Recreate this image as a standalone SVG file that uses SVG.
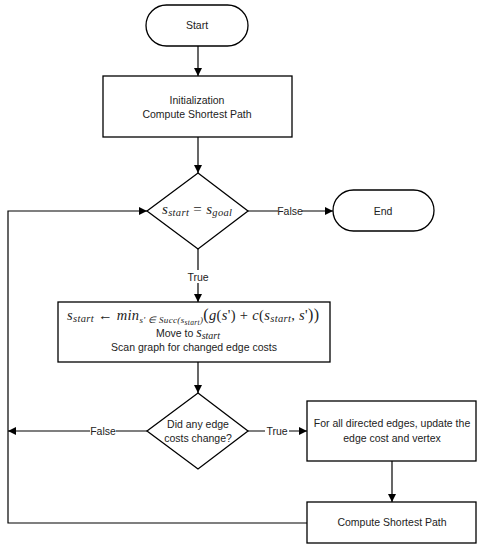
<svg xmlns="http://www.w3.org/2000/svg" width="482" height="550" viewBox="0 0 482 550">
<style>
.shape{fill:#fff;stroke:#000;stroke-width:1.3}
.conn{fill:none;stroke:#000;stroke-width:1.2}
.t{font-family:"Liberation Sans",Arial,sans-serif;font-size:10.5px;fill:#222;text-anchor:middle}
.lbl{font-family:"Liberation Sans",Arial,sans-serif;font-size:10.5px;fill:#222;text-anchor:middle}
.m{font-family:"Liberation Serif","Times New Roman",serif;font-style:italic;fill:#222}
</style>
<defs>
<marker id="arr" viewBox="0 0 10 10" refX="10" refY="5" markerWidth="8" markerHeight="8" markerUnits="userSpaceOnUse" orient="auto">
<path d="M0,0 L10,5 L0,10 z" fill="#000"/>
</marker>
</defs>
<rect width="482" height="550" fill="#fff"/>
<g id="connectors">
<line class="conn" x1="198" y1="46" x2="198" y2="76" marker-end="url(#arr)"/>
<line class="conn" x1="198" y1="137" x2="198" y2="173" marker-end="url(#arr)"/>
<line class="conn" x1="248" y1="211" x2="333" y2="211" marker-end="url(#arr)"/>
<line class="conn" x1="198" y1="249" x2="198" y2="302" marker-end="url(#arr)"/>
<line class="conn" x1="198" y1="362" x2="198" y2="393" marker-end="url(#arr)"/>
<line class="conn" x1="248" y1="431" x2="307" y2="431" marker-end="url(#arr)"/>
<line class="conn" x1="147" y1="431" x2="8" y2="431" marker-end="url(#arr)"/>
<line class="conn" x1="392" y1="461" x2="392" y2="502" marker-end="url(#arr)"/>
<polyline class="conn" points="307,523 8,523 8,211 147,211" marker-end="url(#arr)"/>
<rect x="278" y="204" width="24" height="13" fill="#fff"/>
<text class="lbl" x="290" y="215">False</text>
<rect x="186" y="270" width="24" height="13" fill="#fff"/>
<text class="lbl" x="198" y="281">True</text>
<rect x="265" y="424" width="24" height="13" fill="#fff"/>
<text class="lbl" x="277" y="435">True</text>
<rect x="90" y="424" width="26" height="13" fill="#fff"/>
<text class="lbl" x="103" y="435">False</text>
</g>
<g id="start">
<rect class="shape" x="146" y="5" width="102" height="41" rx="20.5"/>
<text class="t" x="197" y="29">Start</text>
</g>
<g id="init">
<rect class="shape" x="103" y="76" width="189" height="61"/>
<text class="t" x="197" y="104">Initialization</text>
<text class="t" x="197" y="118">Compute Shortest Path</text>
</g>
<g id="goal-check">
<polygon class="shape" points="198,173 248,211 198,249 147,211"/>
<text class="m" x="162" y="214" font-size="15" textLength="70" lengthAdjust="spacing">s<tspan font-size="10.5" dy="2">start</tspan><tspan dy="-2" font-style="normal"> = </tspan>s<tspan font-size="10.5" dy="2">goal</tspan></text>
</g>
<g id="end">
<rect class="shape" x="333" y="190" width="101" height="41" rx="20.5"/>
<text class="t" x="383" y="215">End</text>
</g>
<g id="move">
<rect class="shape" x="58" y="302" width="272" height="60"/>
<text class="m" x="67" y="320" font-size="14.5" textLength="252" lengthAdjust="spacing">s<tspan font-size="10.5" dy="2">start</tspan><tspan dy="-2" font-style="normal"> ← </tspan>min<tspan font-size="9" dy="3">s' ∈ Succ(s</tspan><tspan font-size="7.5" dy="1.5">start</tspan><tspan font-size="9" dy="-1.5">)</tspan><tspan dy="-3" font-style="normal" font-size="16">(</tspan>g<tspan font-style="normal">(</tspan>s<tspan font-style="normal">') + </tspan>c<tspan font-style="normal">(</tspan>s<tspan font-size="10.5" dy="2">start</tspan><tspan dy="-2" font-style="normal">, </tspan>s<tspan font-style="normal">'</tspan><tspan font-style="normal" font-size="16">))</tspan></text>
<text class="t" x="188" y="337">Move to <tspan class="m" font-size="14">s</tspan><tspan class="m" font-size="10" dy="2">start</tspan></text>
<text class="t" x="194" y="351">Scan graph for changed edge costs</text>
</g>
<g id="changed-check">
<polygon class="shape" points="198,393 248,431 198,469 147,431"/>
<text class="t" x="198" y="428">Did any edge</text>
<text class="t" x="198" y="442">costs change?</text>
</g>
<g id="update">
<rect class="shape" x="307" y="401" width="169" height="60"/>
<text class="t" x="392" y="427">For all directed edges, update the</text>
<text class="t" x="392" y="442">edge cost and vertex</text>
</g>
<g id="compute">
<rect class="shape" x="307" y="502" width="169" height="41"/>
<text class="t" x="392" y="526">Compute Shortest Path</text>
</g>
</svg>
